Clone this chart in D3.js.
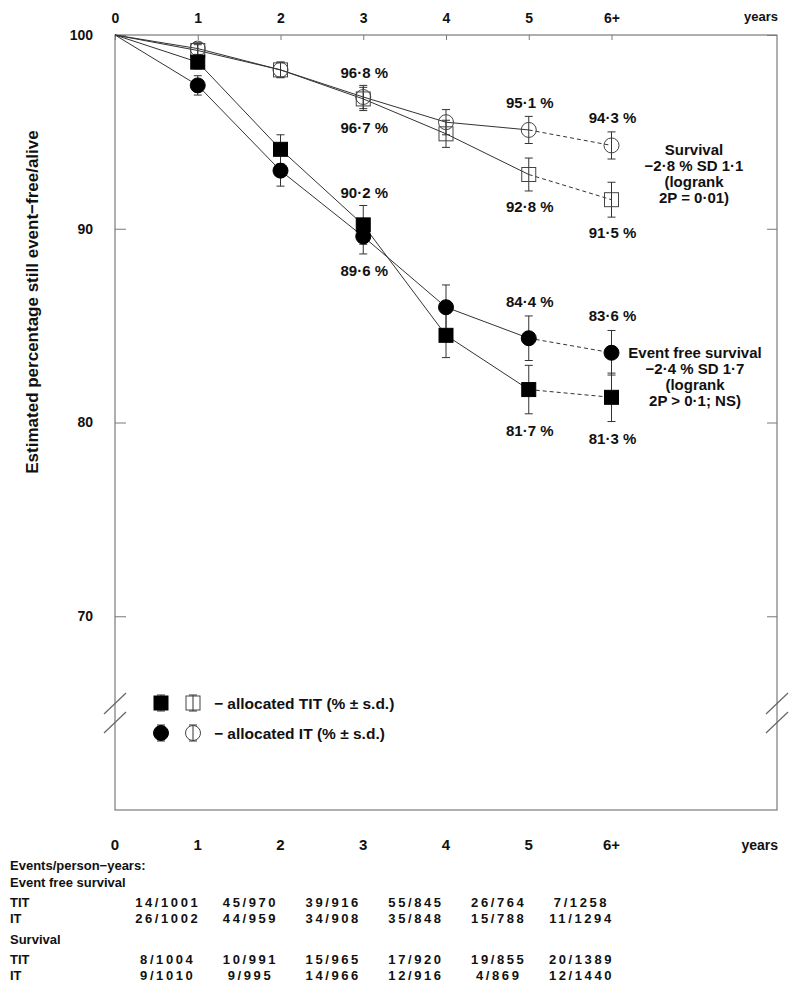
<!DOCTYPE html>
<html lang="en">
<head>
  <meta charset="UTF-8">
  <title>Event free survival and survival by allocation</title>
  <script src="https://d3js.org/d3.v7.min.js"></script>
  <style>
    body { margin: 0; background: #ffffff; }
    svg text { font-family: "Liberation Sans", Arial, sans-serif; font-weight: bold; fill: #111; }
    .narrow { font-family: "Liberation Sans Narrow", "Arial Narrow", "Liberation Sans", Arial, sans-serif; }
  </style>
</head>
<body>
  <svg id="chart" width="800" height="992"></svg>

  <script>
    // ---- data ----
    const years = [0, 1, 2, 3, 4, 5, 6];
    const yearLabels = ["0", "1", "2", "3", "4", "5", "6+"];
    const yTicks = [70, 80, 90, 100];

    const efsTIT   = [100, 98.6, 94.1, 90.2, 84.5, 81.7, 81.3];
    const efsTITsd = [0, 0.35, 0.75, 1.0, 1.15, 1.25, 1.25];
    const efsIT    = [100, 97.4, 93.0, 89.6, 85.95, 84.35, 83.6];
    const efsITsd  = [0, 0.5, 0.8, 0.9, 1.15, 1.15, 1.15];
    const survTIT   = [100, 99.2, 98.2, 96.7, 94.9, 92.8, 91.5];
    const survTITsd = [0, 0.3, 0.4, 0.6, 0.7, 0.85, 0.9];
    const survIT    = [100, 99.3, 98.2, 96.8, 95.5, 95.1, 94.3];
    const survITsd  = [0, 0.3, 0.4, 0.6, 0.65, 0.7, 0.7];

    // percentage labels: [year, value, text]
    const pctLabels = [
      [3, 96.8, "96·8 %"], [3, 96.7, "96·7 %"],
      [3, 90.2, "90·2 %"], [3, 89.6, "89·6 %"],
      [5, 95.1, "95·1 %"], [6, 94.3, "94·3 %"],
      [5, 92.8, "92·8 %"], [6, 91.5, "91·5 %"],
      [5, 84.4, "84·4 %"], [6, 83.6, "83·6 %"],
      [5, 81.7, "81·7 %"], [6, 81.3, "81·3 %"]
    ];
    const survNote = ["Survival", "−2·8 % SD 1·1", "(logrank", "2P = 0·01)"];
    const efsNote  = ["Event free survival", "−2·4 % SD 1·7", "(logrank", "2P > 0·1; NS)"];

    const tableRows = [
      ["TIT", ["14/1001", "45/970", "39/916", "55/845", "26/764", "7/1258"]],
      ["IT",  ["26/1002", "44/959", "34/908", "35/848", "15/788", "11/1294"]],
      ["TIT", ["8/1004", "10/991", "15/965", "17/920", "19/855", "20/1389"]],
      ["IT",  ["9/1010", "9/995", "14/966", "12/916", "4/869", "12/1440"]]
    ];

    // ---- layout ----
    const svg = d3.select("#chart");
    const pLeft = 115, pRight = 777, pTop = 35, pBottom = 810;

    const x = d3.scaleLinear().domain([0, 8]).range([pLeft, pRight]);
    const y = d3.scaleLinear().domain([60, 100]).range([pBottom, pTop]);

    // frame
    svg.append("rect")
       .attr("x", pLeft).attr("y", pTop)
       .attr("width", pRight - pLeft).attr("height", pBottom - pTop)
       .attr("fill", "none").attr("stroke", "#7a7a7a").attr("stroke-width", 1.2);

    // axis breaks
    [pLeft, pRight].forEach(bx => {
      [693, 712].forEach(by => {
        svg.append("line")
           .attr("x1", bx + 11).attr("y1", by)
           .attr("x2", bx - 11).attr("y2", by + 21)
           .attr("stroke", "#666").attr("stroke-width", 1.2);
      });
    });

    // top axis
    const topAxis = svg.append("g")
       .attr("transform", `translate(0,${pTop})`)
       .call(d3.axisTop(x).tickValues(years).tickFormat((d, i) => yearLabels[i])
              .tickSizeInner(-5).tickSizeOuter(0).tickPadding(12));
    topAxis.select(".domain").remove();
    topAxis.selectAll("line").attr("stroke", "#7a7a7a");
    topAxis.selectAll("text").attr("font-size", 14).attr("fill", "#111");
    svg.append("text").attr("x", pRight + 1).attr("y", 21)
       .attr("text-anchor", "end").attr("font-size", 13).text("years");

    // left axis
    const leftAxis = svg.append("g")
       .attr("transform", `translate(${pLeft},0)`)
       .call(d3.axisLeft(y).tickValues(yTicks).tickSizeInner(-11).tickSizeOuter(0).tickPadding(22));
    leftAxis.select(".domain").remove();
    leftAxis.selectAll("line").attr("stroke", "#7a7a7a");
    leftAxis.selectAll("text").attr("font-size", 14).attr("fill", "#111");

    // right axis ticks
    const rightAxis = svg.append("g")
       .attr("transform", `translate(${pRight},0)`)
       .call(d3.axisRight(y).tickValues(yTicks).tickSizeInner(-10).tickSizeOuter(0).tickFormat(""));
    rightAxis.select(".domain").remove();
    rightAxis.selectAll("line").attr("stroke", "#7a7a7a");

    svg.append("text")
       .attr("transform", "translate(38,302) rotate(-90)")
       .attr("text-anchor", "middle").attr("font-size", 17)
       .text("Estimated percentage still event−free/alive");

    // ---- series ----
    const series = [
      { v: survTIT, sd: survTITsd, shape: "square", filled: false },
      { v: survIT,  sd: survITsd,  shape: "circle", filled: false },
      { v: efsTIT,  sd: efsTITsd,  shape: "square", filled: true },
      { v: efsIT,   sd: efsITsd,   shape: "circle", filled: true }
    ];
    const ink = "#333";
    const line = d3.line().x(d => x(d[0])).y(d => y(d[1]));

    function marker(g, shape, filled, cx, cy) {
      if (shape === "square") {
        g.append("rect").attr("x", cx - 7).attr("y", cy - 7).attr("width", 14).attr("height", 14)
         .attr("fill", filled ? "#000" : "none").attr("stroke", filled ? "#000" : "#444").attr("stroke-width", 1);
      } else {
        g.append("circle").attr("cx", cx).attr("cy", cy).attr("r", 7.5)
         .attr("fill", filled ? "#000" : "none").attr("stroke", filled ? "#000" : "#444").attr("stroke-width", 1);
      }
    }

    function errBar(g, cx, y1, y2) {
      g.append("line").attr("x1", cx).attr("x2", cx).attr("y1", y1).attr("y2", y2)
       .attr("stroke", ink).attr("stroke-width", 1);
      [y1, y2].forEach(yy => g.append("line").attr("x1", cx - 4).attr("x2", cx + 4)
       .attr("y1", yy).attr("y2", yy).attr("stroke", ink).attr("stroke-width", 1));
    }

    const gLines = svg.append("g");
    const gBars = svg.append("g");
    const gMarks = svg.append("g");

    series.forEach(s => {
      const pts = years.map((yr, i) => [yr, s.v[i]]);
      gLines.append("path").attr("d", line(pts.slice(0, 6)))
            .attr("fill", "none").attr("stroke", ink).attr("stroke-width", 1);
      gLines.append("path").attr("d", line(pts.slice(5)))
            .attr("fill", "none").attr("stroke", ink).attr("stroke-width", 1)
            .attr("stroke-dasharray", "4,3");
      pts.slice(1).forEach((p, j) => {
        const sd = s.sd[j + 1];
        errBar(gBars, x(p[0]), y(p[1] + sd), y(p[1] - sd));
        marker(gMarks, s.shape, s.filled, x(p[0]), y(p[1]));
      });
    });

    // percentage labels (vertical offsets from the point)
    const labelDy = [-19, 34, -27, 39, -22, -22, 37, 38, -30, -32, 46, 47];
    pctLabels.forEach((d, i) => {
      svg.append("text").attr("x", x(d[0]) + 1).attr("y", y(d[1]) + labelDy[i])
         .attr("text-anchor", "middle").attr("font-size", 15).text(d[2]);
    });

    function note(lines, cx, y0) {
      lines.forEach((t, i) => svg.append("text").attr("x", cx).attr("y", y0 + i * 16)
        .attr("text-anchor", "middle").attr("font-size", 15).text(t));
    }
    note(survNote, 694, 155);
    note(efsNote, 695, 358);

    // ---- legend ----
    const leg = svg.append("g");
    [["square", 703, "− allocated TIT (% ± s.d.)"], ["circle", 733, "− allocated IT (% ± s.d.)"]]
      .forEach(([shape, ly, label]) => {
        errBar(leg, 161, ly - 8, ly + 8);
        marker(leg, shape, true, 161, ly);
        errBar(leg, 193, ly - 8, ly + 8);
        marker(leg, shape, false, 193, ly);
        leg.append("text").attr("x", 214).attr("y", ly + 6).attr("font-size", 15.5).text(label);
      });

    // ---- bottom year row and table ----
    years.forEach((yr, i) => {
      svg.append("text").attr("class", "narrow").attr("x", x(yr)).attr("y", 850)
         .attr("text-anchor", "middle").attr("font-size", 15).text(yearLabels[i]);
    });
    svg.append("text").attr("class", "narrow").attr("x", pRight + 1).attr("y", 850)
       .attr("text-anchor", "end").attr("font-size", 14).text("years");

    const tx = 10;
    svg.append("text").attr("class", "narrow").attr("x", tx).attr("y", 870).attr("font-size", 13).text("Events/person−years:");
    svg.append("text").attr("class", "narrow").attr("x", tx).attr("y", 887).attr("font-size", 13).text("Event free survival");
    svg.append("text").attr("class", "narrow").attr("x", tx).attr("y", 944).attr("font-size", 13).text("Survival");

    const rowY = [907, 923, 964, 980];
    tableRows.forEach(([name, vals], r) => {
      svg.append("text").attr("class", "narrow").attr("x", tx).attr("y", rowY[r])
         .attr("font-size", 13).text(name);
      vals.forEach((v, c) => {
        svg.append("text").attr("class", "narrow").attr("x", x(c + 1) - 30).attr("y", rowY[r])
           .attr("text-anchor", "middle").attr("font-size", 13)
           .attr("letter-spacing", "2.6px").text(v);
      });
    });
  </script>
</body>
</html>
